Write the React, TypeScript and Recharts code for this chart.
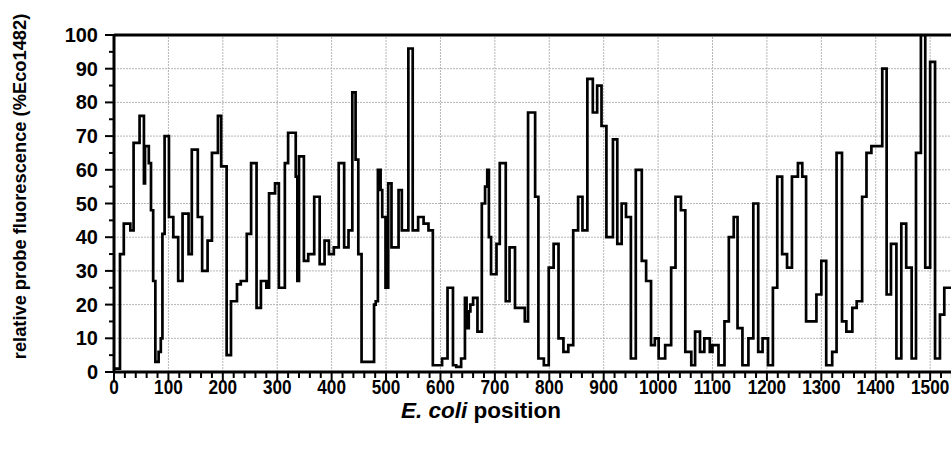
import React from 'react';
import { LineChart, Line, XAxis, YAxis, ReferenceLine, Label } from 'recharts';

// probe start position along E. coli 16S rRNA
const positions = [
  0, 11, 18, 30, 36, 47, 55, 57, 64, 68, 72, 76, 82, 86, 89, 93, 101, 109, 118, 126,
  137, 143, 154, 162, 172, 180, 191, 197, 207, 215, 226, 233, 244, 252, 262, 270, 280, 285, 296, 303,
  314, 320, 334, 337, 340, 349, 357, 368, 378, 387, 395, 404, 413, 423, 431, 438, 444, 449, 455, 478,
  481, 485, 490, 493, 499, 504, 510, 523, 529, 541, 549, 559, 569, 578, 586, 603, 613, 623, 629, 638,
  645, 648, 652, 655, 660, 668, 676, 682, 686, 689, 693, 703, 709, 720, 727, 737, 755, 761, 774, 780,
  790, 799, 808, 817, 826, 835, 844, 853, 861, 870, 880, 888, 896, 905, 917, 925, 933, 941, 950, 959,
  970, 978, 987, 994, 1001, 1013, 1024, 1032, 1042, 1050, 1061, 1068, 1077, 1085, 1095, 1100, 1111, 1122, 1130, 1139,
  1146, 1155, 1166, 1175, 1184, 1192, 1202, 1211, 1219, 1228, 1237, 1246, 1257, 1265, 1272, 1291, 1300, 1309, 1320, 1328,
  1338, 1346, 1357, 1365, 1375, 1383, 1392, 1412, 1420, 1428, 1438, 1447, 1456, 1466, 1474, 1483, 1491, 1500, 1509, 1518,
  1526, 1542,
];

// relative probe fluorescence (%Eco1482)
const fluorescence = [
  1, 35, 44, 42, 68, 76, 56, 67, 62, 48, 27, 3, 6, 10, 41, 70, 46, 40, 27, 47,
  35, 66, 46, 30, 39, 65, 76, 61, 5, 21, 26, 27, 41, 62, 19, 27, 25, 53, 56, 25,
  62, 71, 58, 27, 64, 33, 35, 52, 32, 39, 35, 37, 62, 37, 42, 83, 63, 35, 3, 20,
  21, 60, 54, 46, 25, 56, 37, 54, 42, 96, 42, 46, 44, 42, 2, 4, 25, 2, 1.5, 4,
  22, 13, 18, 20, 22, 12, 50, 55, 60, 40, 29, 38, 62, 21, 37, 19, 15, 77, 52, 4,
  2, 31, 38, 10, 6, 8, 42, 52, 42, 87, 77, 85, 73, 40, 69, 38, 50, 46, 4, 60,
  33, 27, 8, 10, 4, 8, 31, 52, 48, 6, 2, 12, 6, 10, 6, 8, 2, 15, 40, 46,
  13, 2, 10, 50, 6, 10, 2, 25, 58, 35, 31, 58, 62, 58, 15, 23, 33, 2, 6, 65,
  15, 12, 19, 21, 52, 65, 67, 90, 23, 38, 4, 44, 31, 4, 65, 100, 31, 92, 4, 17,
  25, 25,
];

const xTickLabels = [0, 100, 200, 300, 400, 500, 600, 700, 800, 900, 1000, 1100, 1200, 1300, 1400, 1500];
const yTickLabels = [0, 10, 20, 30, 40, 50, 60, 70, 80, 90, 100];
const xMinorStep = 20;
const yMinorStep = 5;
const xMax = 1542;

const xTicks: number[] = [];
for (let v = 0; v <= 1540; v += xMinorStep) xTicks.push(v);
const yTicks: number[] = [];
for (let v = 0; v <= 100; v += yMinorStep) yTicks.push(v);

const data = positions.map((p, i) => ({ pos: p, val: fluorescence[i] }));

const FONT = '"Liberation Sans", Arial, Helvetica, sans-serif';

const XTick = (props: any) => {
  const { x, y, payload } = props;
  const v = payload.value;
  const major = xTickLabels.includes(v);
  return (
    <g>
      <line x1={x} x2={x} y1={y} y2={y + (major ? 9 : 6)} stroke="#000" strokeWidth={2} />
      {major && (
        <text
          transform={`translate(${x},${y + 22}) scale(0.86,1)`}
          textAnchor="middle"
          fontFamily={FONT}
          fontWeight="bold"
          fontSize={20}
          fill="#000"
        >
          {v}
        </text>
      )}
    </g>
  );
};

const YTick = (props: any) => {
  const { x, y, payload } = props;
  const v = payload.value;
  const major = yTickLabels.includes(v);
  return (
    <g>
      <line x1={x - (major ? 9 : 5)} x2={x} y1={y} y2={y} stroke="#000" strokeWidth={2} />
      {major && (
        <text x={x - 16} y={y} dy={7} textAnchor="end" fontFamily={FONT} fontWeight="bold" fontSize={20} fill="#000">
          {v}
        </text>
      )}
    </g>
  );
};

const YTitle = (props: any) => {
  const vb = props.viewBox;
  const cx = vb.x + 18;
  const cy = vb.y + vb.height / 2 - 17;
  return (
    <text
      transform={`translate(${cx},${cy}) rotate(-90)`}
      textAnchor="middle"
      fontFamily={FONT}
      fontWeight="bold"
      fontSize={18.3}
      fill="#000"
    >
      relative probe fluorescence (%Eco1482)
    </text>
  );
};

const XTitle = (props: any) => {
  const vb = props.viewBox;
  const cx = vb.x + 367;
  const cy = vb.y + 46;
  return (
    <text x={cx} y={cy} textAnchor="middle" fontFamily={FONT} fontWeight="bold" fontSize={22.5} fill="#000">
      <tspan fontStyle="italic">E. coli</tspan>
      <tspan> position</tspan>
    </text>
  );
};

const gridX = xTickLabels.filter((v) => v > 0);
const gridY = yTickLabels.filter((v) => v > 0 && v < 100);

export default function App() {
  return (
    <div style={{ position: 'absolute', left: 8, top: 8, width: 943, height: 436, overflow: 'hidden' }}>
      <LineChart width={960} height={436} data={data} margin={{ top: 27, right: 15, left: 0, bottom: 0 }}>
        {gridX.map((v) => (
          <ReferenceLine key={'gx' + v} x={v} stroke="#b5b5b5" strokeDasharray="2 1" strokeWidth={1} />
        ))}
        {gridY.map((v) => (
          <ReferenceLine key={'gy' + v} y={v} stroke="#b5b5b5" strokeDasharray="2 1" strokeWidth={1} />
        ))}
        <ReferenceLine y={100} stroke="#000" strokeWidth={3} />
        <XAxis
          type="number"
          dataKey="pos"
          domain={[0, xMax]}
          ticks={xTicks}
          interval={0}
          tick={<XTick />}
          tickLine={false}
          tickSize={0}
          tickMargin={0}
          axisLine={{ stroke: '#000', strokeWidth: 3 }}
          height={72}
          allowDataOverflow
        >
          <Label content={<XTitle />} />
        </XAxis>
        <YAxis
          type="number"
          domain={[0, 100]}
          ticks={yTicks}
          interval={0}
          tick={<YTick />}
          tickLine={false}
          tickSize={0}
          tickMargin={0}
          axisLine={{ stroke: '#000', strokeWidth: 3 }}
          width={106}
          allowDataOverflow
        >
          <Label content={<YTitle />} />
        </YAxis>
        <Line
          type="stepAfter"
          dataKey="val"
          stroke="#000"
          strokeWidth={2.7}
          dot={false}
          isAnimationActive={false}
        />
      </LineChart>
    </div>
  );
}
